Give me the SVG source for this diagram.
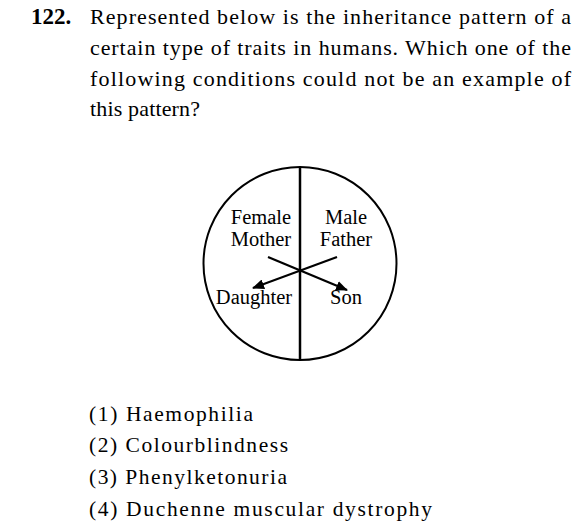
<svg xmlns="http://www.w3.org/2000/svg" width="584" height="525" viewBox="0 0 584 525">
<style>
text{font-family:"Liberation Serif","Times New Roman",serif;fill:#000}
.q{font-size:22px}
.b{font-weight:bold;font-size:23px}
.lbl{font-size:20.5px}
.opt{font-size:21.5px}
.ln{stroke:#000;stroke-width:2.2;fill:none}
</style>
<defs>
<marker id="ah" viewBox="0 0 12 10" refX="11" refY="5" markerWidth="12" markerHeight="10" markerUnits="userSpaceOnUse" orient="auto">
<path d="M0,0 L12,5 L0,10 z" fill="#000"/>
</marker>
</defs>
<g id="question">
<text class="q b" x="31" y="24">122.</text>
<text class="q" x="90" y="24" textLength="481" lengthAdjust="spacing">Represented below is the inheritance pattern of a</text>
<text class="q" x="90" y="55" textLength="481" lengthAdjust="spacing">certain type of traits in humans. Which one of the</text>
<text class="q" x="90" y="86" textLength="481" lengthAdjust="spacing">following conditions could not be an example of</text>
<text class="q" x="90" y="116" textLength="110" lengthAdjust="spacing">this pattern?</text>
</g>
<g id="circle">
<circle cx="300" cy="263.5" r="96.5" fill="none" stroke="#000" stroke-width="2"/>
<line x1="300" y1="167" x2="300" y2="360" stroke="#000" stroke-width="2.5"/>
</g>
<g id="female"><text class="lbl" x="261" y="224" text-anchor="middle">Female</text></g>
<g id="mother"><text class="lbl" x="261" y="246" text-anchor="middle">Mother</text></g>
<g id="male"><text class="lbl" x="346" y="224" text-anchor="middle">Male</text></g>
<g id="father"><text class="lbl" x="346" y="246" text-anchor="middle">Father</text></g>
<g id="daughter"><text class="lbl" x="254" y="304" text-anchor="middle">Daughter</text></g>
<g id="son"><text class="lbl" x="346" y="304" text-anchor="middle">Son</text></g>
<g id="connectors">
<line class="ln" x1="268" y1="257" x2="347" y2="290" marker-end="url(#ah)"/>
<line class="ln" x1="337" y1="257" x2="253" y2="288" marker-end="url(#ah)"/>
</g>
<g id="options">
<text class="opt" x="89" y="421" textLength="164" lengthAdjust="spacing">(1) Haemophilia</text>
<text class="opt" x="89" y="452" textLength="199" lengthAdjust="spacing">(2) Colourblindness</text>
<text class="opt" x="89" y="484" textLength="198" lengthAdjust="spacing">(3) Phenylketonuria</text>
<text class="opt" x="89" y="516" textLength="343" lengthAdjust="spacing">(4) Duchenne muscular dystrophy</text>
</g>
</svg>
